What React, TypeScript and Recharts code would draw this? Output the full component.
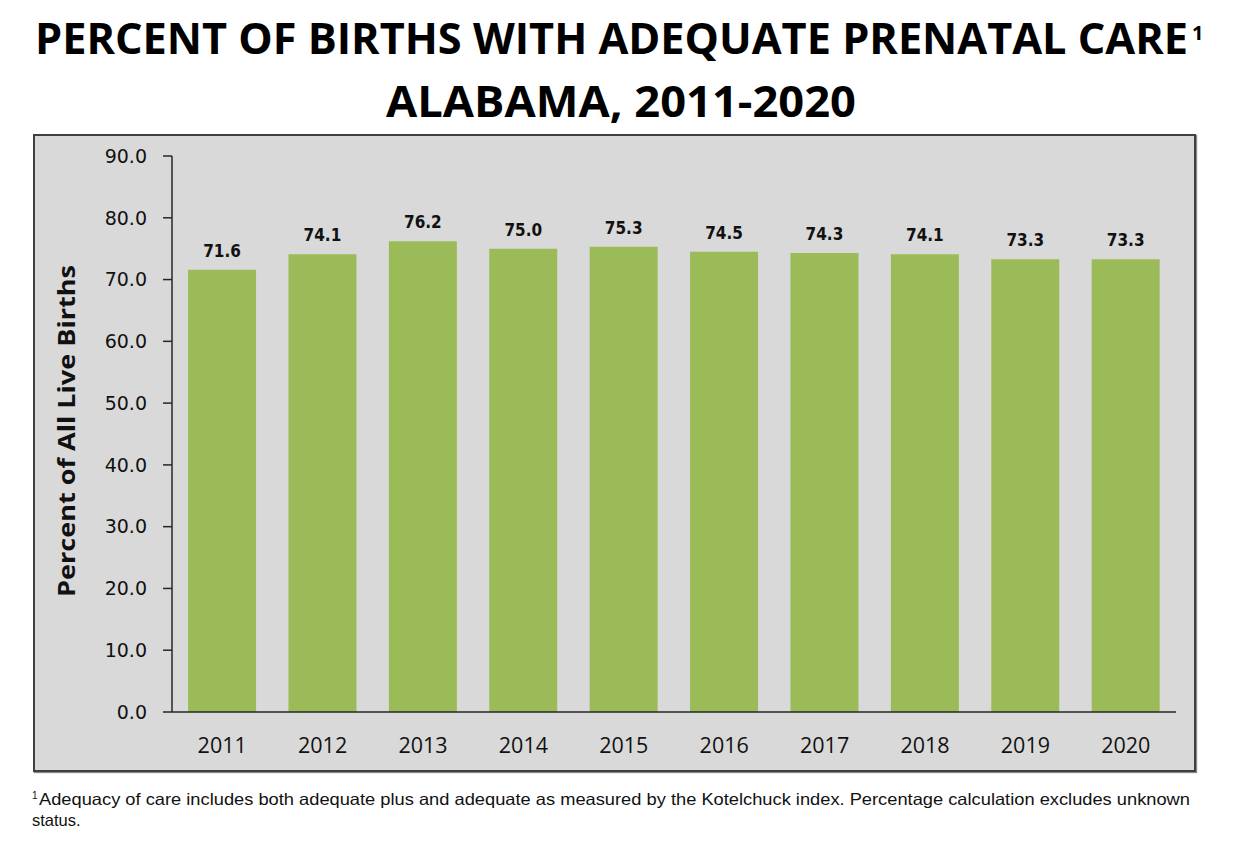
import React from 'react';
import { BarChart, Bar, XAxis, YAxis, LabelList } from 'recharts';

const years = ['2011', '2012', '2013', '2014', '2015', '2016', '2017', '2018', '2019', '2020'];
const percents = [71.6, 74.1, 76.2, 75.0, 75.3, 74.5, 74.3, 74.1, 73.3, 73.3];
const yTicks = [0, 10, 20, 30, 40, 50, 60, 70, 80, 90];

const titleLine1 = 'PERCENT OF BIRTHS WITH ADEQUATE PRENATAL CARE';
const titleLine2 = 'ALABAMA, 2011-2020';
const yLabel = 'Percent of All Live Births';
const footLine1 =
  'Adequacy of care includes both adequate plus and adequate as measured by the Kotelchuck index. Percentage calculation excludes unknown';
const footLine2 = 'status.';

const data = years.map((y, i) => ({ year: y, value: percents[i] }));

const W = 1234;
const H = 852;

export default function App() {
  return (
    <div style={{ position: 'absolute', left: 0, top: 0, width: W, height: H, background: '#fff', overflow: 'hidden' }}>
      {/* panel */}
      <div
        style={{
          position: 'absolute',
          left: 33,
          top: 134,
          width: 1163,
          height: 638,
          boxSizing: 'border-box',
          background: '#D9D9D9',
          border: '2px solid #404040',
          boxShadow: '1px 1px 1px #8a8a8a',
        }}
      />
      <div style={{ position: 'absolute', left: 0, top: 0 }}>
        <BarChart
          width={W}
          height={H}
          data={data}
          margin={{ top: 156, right: 58, bottom: 110, left: 112 }}
          barCategoryGap="16%"
        >
          <XAxis
            dataKey="year"
            tickLine={false}
            tickSize={0}
            tickMargin={26}
            axisLine={{ stroke: '#262626', strokeWidth: 1.5 }}
            tick={{ fill: '#111', fontSize: 21.5, fontFamily: "'Open Sans', sans-serif" }}
            height={30}
            interval={0}
          />
          <YAxis
            type="number"
            domain={[0, 90]}
            ticks={yTicks}
            interval={0}
            width={60}
            tickSize={9}
            tickMargin={16}
            tickFormatter={(v: number) => v.toFixed(1)}
            axisLine={{ stroke: '#262626', strokeWidth: 1.5 }}
            tickLine={{ stroke: '#262626', strokeWidth: 1.5 }}
            tick={{ fill: '#111', fontSize: 19, fontFamily: "'DejaVu Sans', sans-serif" }}
          />
          <Bar dataKey="value" fill="#9BBB59" isAnimationActive={false}>
            <LabelList
              dataKey="value"
              position="top"
              offset={13}
              formatter={(v: number) => v.toFixed(1)}
              style={{
                fill: '#111',
                fontSize: 17,
                fontWeight: 'bold',
                fontFamily: "'DejaVu Sans Condensed', 'DejaVu Sans', sans-serif",
                fontStretch: 'condensed',
              }}
            />
          </Bar>
        </BarChart>
      </div>
      <svg
        width={W}
        height={H}
        style={{ position: 'absolute', left: 0, top: 0, pointerEvents: 'none' }}
      >
        <g fontFamily="'Open Sans', sans-serif" fontWeight="bold" fill="#000">
          <text x={35} y={54} fontSize={43} textLength={1153} lengthAdjust="spacingAndGlyphs">
            {titleLine1}
          </text>
          <text x={1192} y={40} fontSize={20}>
            1
          </text>
          <text x={386} y={117} fontSize={43} textLength={470} lengthAdjust="spacingAndGlyphs">
            {titleLine2}
          </text>
          <text
            x={75}
            y={431}
            fontSize={23}
            textAnchor="middle"
            transform="rotate(-90 75 431)"
            textLength={332}
            lengthAdjust="spacingAndGlyphs"
            fill="#111"
          >
            {yLabel}
          </text>
        </g>
        <g fontFamily="'Liberation Sans', Arial, sans-serif" fill="#111">
          <text x={32} y={799} fontSize={10}>
            1
          </text>
          <text x={39} y={805} fontSize={16.5} textLength={1151} lengthAdjust="spacingAndGlyphs">
            {footLine1}
          </text>
          <text x={32} y={826} fontSize={16.5}>
            {footLine2}
          </text>
        </g>
      </svg>
    </div>
  );
}
